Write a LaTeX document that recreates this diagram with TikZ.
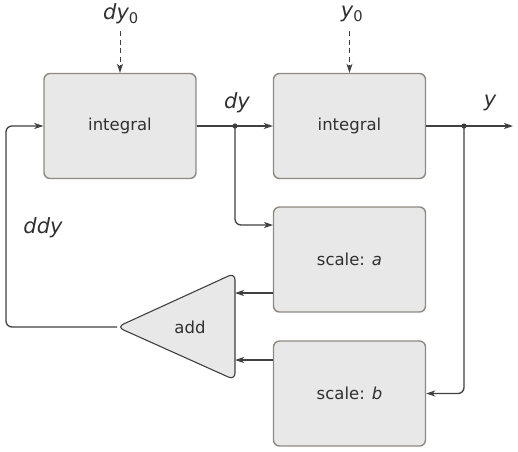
\documentclass[tikz,border=0pt]{standalone}
\usepackage{fontspec}
\setmainfont{DejaVu Sans}
\usetikzlibrary{arrows.meta}

\definecolor{boxfill}{HTML}{E8E8E8}
\definecolor{boxline}{HTML}{8E8984}
\definecolor{wire}{HTML}{404040}
\definecolor{ink}{HTML}{303030}

\tikzset{
  block/.style={draw=boxline, fill=boxfill, line width=1.4pt, rounded corners=6pt,
    minimum width=152pt, minimum height=105pt, inner sep=0pt, text=ink,
    font=\fontsize{16.5}{19}\selectfont},
  wirearrow/.style={draw=wire, line width=1.3pt, rounded corners=6pt,
    -{Stealth[length=9pt,width=6pt,inset=2.5pt]}},
  initarrow/.style={draw=wire, line width=1pt, dash pattern=on 5pt off 3.5pt,
    -{Stealth[length=9pt,width=6pt,inset=2.5pt]}},
  siglabel/.style={text=ink, font=\fontsize{21}{24}\selectfont\itshape, inner sep=0pt}
}

\begin{document}
\begin{tikzpicture}[x=1pt,y=-1pt]
        \useasboundingbox (0,0) rectangle (518,451);

        % Bloques
        \node[block] (intA) at (120,126) {integral};
        \node[block] (intB) at (349.5,126) {integral};
        \node[block] (scaleA) at (349.5,259.5) {scale: \textit{a}};
        \node[block] (scaleB) at (349.5,393.5) {scale: \textit{b}};

        % Sumador
        \filldraw[draw=wire, fill=boxfill, line width=1.1pt, rounded corners=7pt]
            (235,273) -- (117,327) -- (235,380) -- cycle;
        \node[text=ink, font=\fontsize{16.5}{19}\selectfont] (add) at (190,327) {add};
        \coordinate (addOut) at (117,327);
        \coordinate (addInA) at (235,293);
        \coordinate (addInB) at (235,360);

        % Puntos auxiliares
        \coordinate (dyDot) at (235,126);
        \coordinate (yDot) at (464,126);
        \coordinate (yEnd) at (513,126);
        \coordinate (fbLeft) at (6,220);
        \coordinate (scaleAin) at (273,225);
        \coordinate (scaleAout) at (273,293);
        \coordinate (scaleBout) at (273,360);

        % Etiquetas
        \node[siglabel] (dy0) at (121,14) {dy\textsubscript{\upshape 0}};
        \node[siglabel] (y0) at (352,14) {y\textsubscript{\upshape 0}};
        \node[siglabel] (dyLab) at (237,103) {dy};
        \node[siglabel] (yLab) at (490,103) {y};
        \node[siglabel] (ddyLab) at (43,228) {ddy};

        % Condiciones iniciales
        \draw[initarrow] (intA.north |- 0,31) -- (intA.north);
        \draw[initarrow] (intB.north |- 0,31) -- (intB.north);

        % Conexiones
        \draw[wirearrow] (intA.east) -- (intB.west);
        \draw[wirearrow] (intB.east) -- (yEnd);
        \draw[wirearrow] (dyDot) |- (scaleAin);
        \draw[wirearrow] (yDot) |- (scaleB.east);
        \draw[wirearrow] (scaleAout) -- (addInA);
        \draw[wirearrow] (scaleBout) -- (addInB);
        \draw[wirearrow] (addOut) -| (fbLeft) |- (intA.west);
        \fill[wire] (dyDot) circle (2.6pt);
        \fill[wire] (yDot) circle (2.6pt);
\end{tikzpicture}
\end{document}
